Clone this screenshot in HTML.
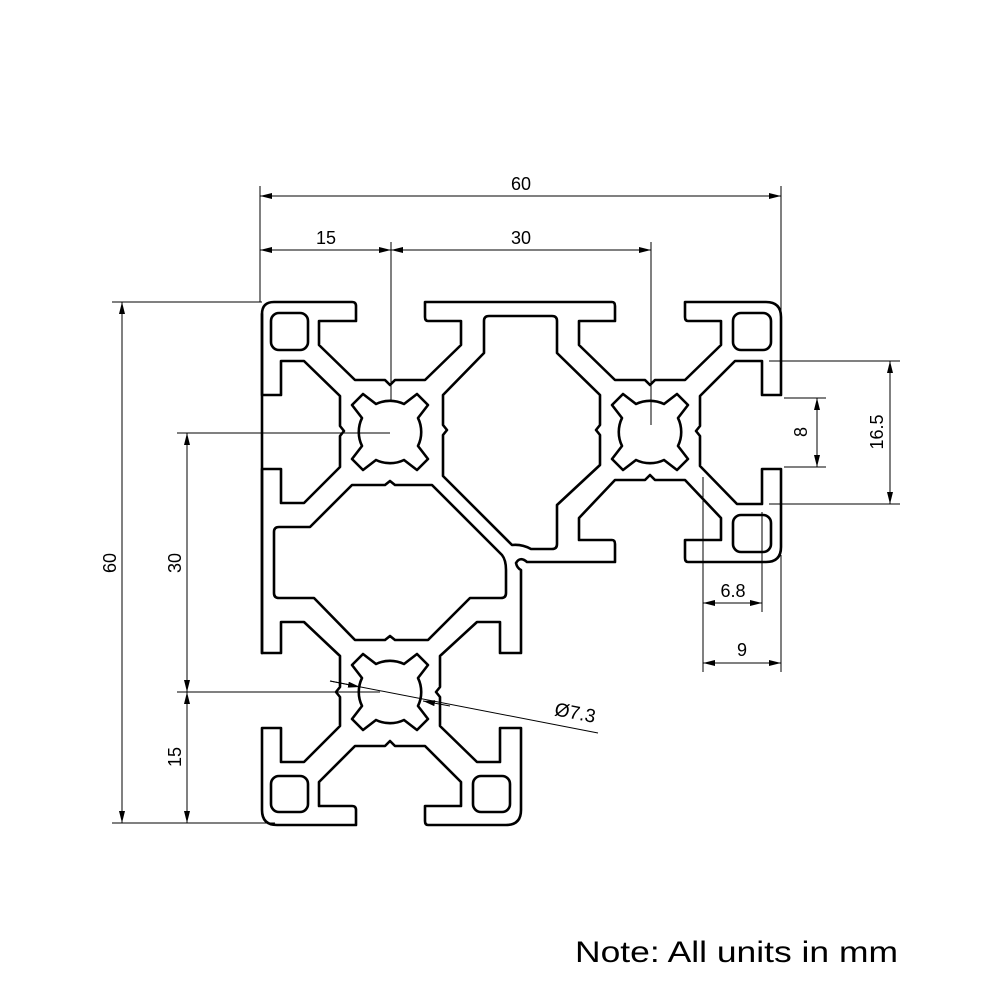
<!DOCTYPE html>
<html><head><meta charset="utf-8"><style>
html,body{margin:0;padding:0;background:#fff;}
svg{display:block;}
</style></head><body>
<svg width="1000" height="1000" viewBox="0 0 1000 1000" xmlns="http://www.w3.org/2000/svg">
<defs>
<marker id="ar" viewBox="0 0 12 6" refX="12" refY="3" markerWidth="12" markerHeight="6" markerUnits="userSpaceOnUse" orient="auto-start-reverse">
<path d="M0,0 L12,3 L0,6 Z" fill="#000"/>
</marker>
<path id="hole" d="M-14,-28 L-27,-38 L-38,-27 L-28,-14 A32,32 0 0 0 -28,14 L-38,27 L-27,38 L-14,28 A32,32 0 0 0 14,28 L27,38 L38,27 L28,14 A32,32 0 0 0 28,-14 L38,-27 L27,-38 L14,-28 A32,32 0 0 0 -14,-28 Z"/>
</defs>

<g fill="none" stroke="#000" stroke-width="2.6" stroke-linejoin="round" stroke-linecap="round">
<path d="M262,314 Q262,302 274,302 L352,302 Q356,302 356,306 L356,321 L319,321 L319,345 L355,380 L385,380 L390,385 L395,380 L425,380 L461,345 L461,321 L428,321 Q425,321 425,317 L425,302 L612,302 Q615,302 615,306 L615,321 L579,321 L579,345 L615,380 L645,380 L650,385 L655,380 L685,380 L721,345 L721,321 L688,321 Q685,321 685,317 L685,302 L766,302 Q781,302 781,317 L781,395 L762,395 L762,361 L735,361 L700,396 L700,426 L696,431 L700,436 L700,466 L737,504 L762,504 L762,469 L781,469 L781,547 Q781,562 766,562 L688,562 Q685,562 685,558 L685,540 L721,540 L721,518 L685,480 L655,480 L650,475 L645,480 L615,480 L579,518 L579,540 L612,540 Q615,540 615,544 L615,562 L527,562 Q520,556 516,563 Q517,568 521,570 L521,653 L500,653 L500,622 L477,622 L440,656 L440,687 L436,692 L440,697 L440,726 L477,762 L500,762 L500,728 L521,728 L521,810 Q521,825 506,825 L428,825 Q425,825 425,821 L425,806 L461,806 L461,782 L425,746 L395,746 L390,741 L385,746 L355,746 L319,782 L319,806 L352,806 Q356,806 356,810 L356,825 L277,825 Q262,825 262,810 L262,728 L281,728 L281,762 L304,762 L340,726 L340,697 L336,692 L340,687 L340,656 L304,622 L281,622 L281,653 L262,653 Z"/>
<path d="M262,653 L262,469 L281,469 L281,503 L304,503 L340,467 L340,436 L344,431 L340,426 L340,396 L304,361 L281,361 L281,395 L262,395 L262,314"/>
<path d="M489,316 L552,316 Q557,316 557,321 L557,353 L600,395 L600,425 L596,430 L600,435 L600,465 L557,505 L557,544 Q557,549 552,549 L531,549 Q522,544 512,545 L443,476 L443,435 L447,430 L443,425 L443,395 L484,353 L484,321 Q484,316 489,316 Z"/>
<path d="M279,527 L310,527 L352,485 L385,485 L390,481 L395,485 L432,485 L502,555 Q506,560 506,570 L506,593 Q506,598 501,598 L470,598 L428,640 L395,640 L390,636 L385,640 L355,640 L314,598 L279,598 Q274,598 274,593 L274,532 Q274,527 279,527 Z"/>
<rect x="271" y="313" width="37" height="37" rx="8"/>
<rect x="733" y="313" width="38" height="37" rx="8"/>
<rect x="733" y="515" width="38" height="37" rx="8"/>
<rect x="271" y="776" width="37" height="36" rx="8"/>
<rect x="473" y="776" width="37" height="36" rx="8"/>
<use href="#hole" x="390" y="432"/>
<use href="#hole" x="650" y="432"/>
<use href="#hole" x="390" y="692"/>
</g>

<g stroke="#000" stroke-width="1" fill="none">
<line x1="260" y1="186" x2="260" y2="302"/>
<line x1="781" y1="186" x2="781" y2="360"/>
<line x1="260" y1="196" x2="781" y2="196" marker-start="url(#ar)" marker-end="url(#ar)"/>
<line x1="391" y1="242" x2="391" y2="400"/>
<line x1="651" y1="242" x2="651" y2="425"/>
<line x1="260" y1="250" x2="391" y2="250" marker-start="url(#ar)" marker-end="url(#ar)"/>
<line x1="391" y1="250" x2="651" y2="250" marker-start="url(#ar)" marker-end="url(#ar)"/>
<line x1="112" y1="302" x2="262" y2="302"/>
<line x1="112" y1="823" x2="275" y2="823"/>
<line x1="122" y1="302" x2="122" y2="823" marker-start="url(#ar)" marker-end="url(#ar)"/>
<line x1="177" y1="433" x2="390" y2="433"/>
<line x1="177" y1="692" x2="380" y2="692"/>
<line x1="187" y1="433" x2="187" y2="692" marker-start="url(#ar)" marker-end="url(#ar)"/>
<line x1="187" y1="692" x2="187" y2="823" marker-start="url(#ar)" marker-end="url(#ar)"/>
<line x1="769" y1="361" x2="900" y2="361"/>
<line x1="769" y1="504" x2="900" y2="504"/>
<line x1="890" y1="361" x2="890" y2="504" marker-start="url(#ar)" marker-end="url(#ar)"/>
<line x1="784" y1="398" x2="826" y2="398"/>
<line x1="784" y1="467" x2="826" y2="467"/>
<line x1="817" y1="398" x2="817" y2="467" marker-start="url(#ar)" marker-end="url(#ar)"/>
<line x1="703" y1="477" x2="703" y2="672"/>
<line x1="762" y1="512" x2="762" y2="612"/>
<line x1="781" y1="555" x2="781" y2="672"/>
<line x1="703" y1="603" x2="762" y2="603" marker-start="url(#ar)" marker-end="url(#ar)"/>
<line x1="703" y1="663" x2="781" y2="663" marker-start="url(#ar)" marker-end="url(#ar)"/>
<line x1="330" y1="681" x2="598" y2="733"/>
<line x1="330" y1="681" x2="360" y2="687" marker-end="url(#ar)"/>
<line x1="450" y1="706" x2="423" y2="701" marker-end="url(#ar)"/>
</g>

<g font-family="Liberation Sans, sans-serif" font-size="18" fill="#000" text-anchor="middle">
<text x="521" y="190">60</text>
<text x="326" y="244">15</text>
<text x="521" y="244">30</text>
<text transform="translate(116,563) rotate(-90)">60</text>
<text transform="translate(181,563) rotate(-90)">30</text>
<text transform="translate(181,757) rotate(-90)">15</text>
<text transform="translate(883,432) rotate(-90)">16.5</text>
<text transform="translate(807,432) rotate(-90)">8</text>
<text x="733" y="597">6.8</text>
<text x="742" y="656">9</text>
<text transform="translate(574,719) rotate(11)" font-size="19">Ø7.3</text>
</g>
<text x="575" y="962" font-family="Liberation Sans, sans-serif" font-size="30" textLength="323" lengthAdjust="spacingAndGlyphs" fill="#000">Note: All units in mm</text>
</svg>
</body></html>
